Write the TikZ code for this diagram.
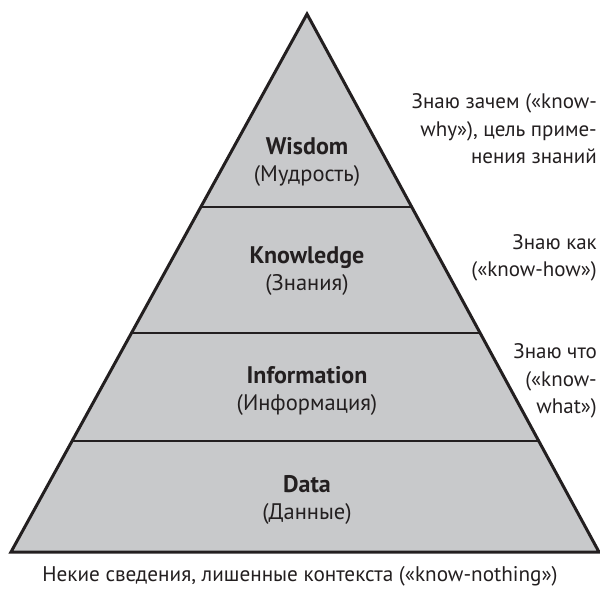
\documentclass[tikz,border=0pt]{standalone}
\usepackage{fontspec}
\setmainfont{PT Sans}
\usetikzlibrary{calc}
\definecolor{pyrfill}{HTML}{C8C9CB}
\definecolor{ink}{HTML}{231F20}
\tikzset{
  edge/.style={draw=ink, line width=3pt, line join=miter},
  divider/.style={draw=ink, line width=2pt},
  lvl/.style={text=ink, align=center, font=\fontsize{22.5}{26.5}\selectfont, inner sep=0pt},
  side/.style={text=ink, align=right, font=\fontsize{21}{27.5}\selectfont, inner sep=0pt, anchor=east},
}
\newcommand{\lvltitle}[1]{{\fontsize{24}{26.5}\selectfont\bfseries #1}}
\begin{document}
\begin{tikzpicture}[x=1pt,y=-1pt]
\useasboundingbox (0,0) rectangle (600,590);
\coordinate (A) at (307,14);
\coordinate (L) at (11,552);
\coordinate (R) at (599,552);
\fill[pyrfill] (A) -- (L) -- (R) -- cycle;
\draw[divider] ($(L)!0.2063!(A)$) -- ($(R)!0.2063!(A)$);
\draw[divider] ($(L)!0.4071!(A)$) -- ($(R)!0.4071!(A)$);
\draw[divider] ($(L)!0.6413!(A)$) -- ($(R)!0.6413!(A)$);
\draw[edge] (A) -- (L) -- (R) -- cycle;
\node[lvl] (wis) at (307,162) {\lvltitle{Wisdom}\\(Мудрость)};
\node[lvl] (kno) at (307,271) {\lvltitle{Knowledge}\\(Знания)};
\node[lvl] (inf) at (307,391) {\lvltitle{Information}\\(Информация)};
\node[lvl] (dat) at (307,500) {\lvltitle{Data}\\(Данные)};
\node[side] (why) at (597,129) {Знаю зачем («know-\\why»), цель приме-\\нения знаний};
\node[side] (how) at (597,258) {Знаю как\\(«know-how»)};
\node[side] (what) at (597,381) {Знаю что\\(«know-\\what»)};
\node[text=ink, font=\fontsize{21.2}{24}\selectfont, inner sep=0pt] (cap) at (300,576) {Некие сведения, лишенные контекста («know-nothing»)};
\end{tikzpicture}
\end{document}
